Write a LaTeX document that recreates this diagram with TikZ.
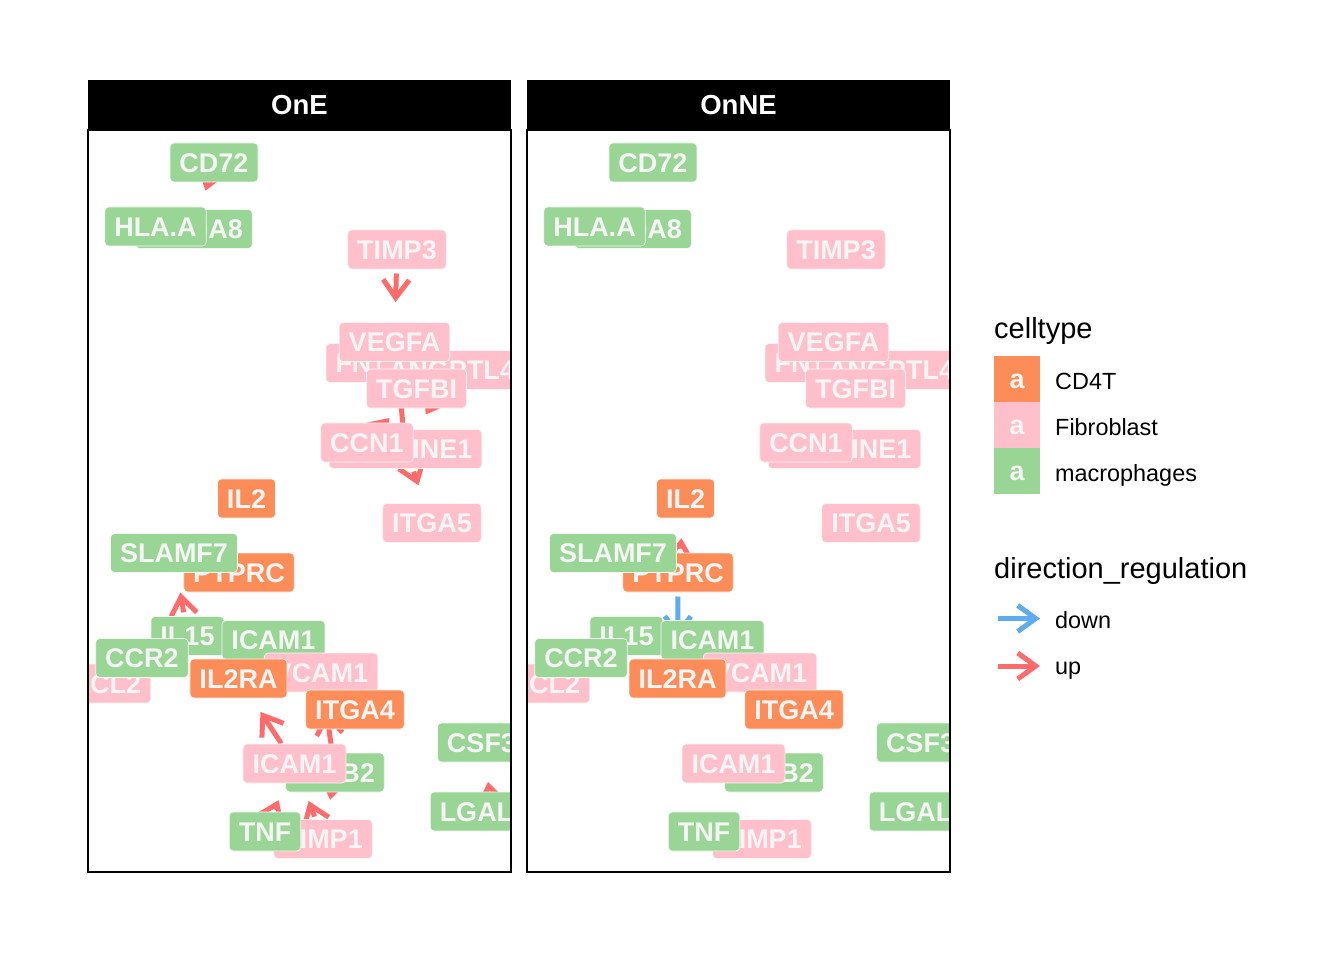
\documentclass[tikz,border=0pt]{standalone}
\usepackage{fontspec}
\setmainfont{Liberation Sans}
\usetikzlibrary{arrows.meta}
\definecolor{cdfour}{HTML}{FC8D59}
\definecolor{fibro}{HTML}{FFC0CB}
\definecolor{macro}{HTML}{99D594}
\definecolor{uparr}{HTML}{FF6A6A}
\definecolor{downarr}{HTML}{5CACEE}
\definecolor{labtxt}{HTML}{F5F5F5}
\pgfdeclarelayer{bglayer}
\pgfdeclarelayer{edgelayer}
\pgfsetlayers{bglayer,edgelayer,main}
\tikzset{
 lab/.style={rounded corners=4pt, draw=labtxt, line width=0.7pt, text=labtxt,
   font=\fontsize{27}{27}\selectfont\bfseries, inner xsep=9.5pt, inner ysep=0pt,
   text height=19.5pt, text depth=0pt, minimum height=39pt},
 cd/.style={lab, fill=cdfour},
 fb/.style={lab, fill=fibro},
 mc/.style={lab, fill=macro},
 arr/.style={line width=5pt, -{Straight Barb[length=18pt,width=26pt]}},
 edge/.style={arr, shorten <=24pt, shorten >=40pt},
 upedge/.style={edge, draw=uparr},
 downedge/.style={edge, draw=downarr},
 striptxt/.style={text=white, font=\fontsize{27.5}{27.5}\selectfont\bfseries},
 legtitle/.style={anchor=base west, inner sep=0pt, font=\fontsize{29}{29}\selectfont},
 leglab/.style={anchor=base west, inner sep=0pt, font=\fontsize{23.4}{23.4}\selectfont},
 legkey/.style={minimum width=46pt, minimum height=46pt, inner sep=0pt, text=labtxt,
   font=\fontsize{27}{27}\selectfont\bfseries, text height=19.5pt, text depth=0pt},
}
\newcommand\drawcelllabels{%
 \node[mc] (S100A8) at (194,229) {S100A8};
 \node[mc] (HLAA) at (155.5,226.5) {HLA.A};
 \node[mc] (CD72) at (214,162.5) {CD72};
 \node[fb] (TIMP3) at (397,249.5) {TIMP3};
 \node[fb] (FN1) at (361,363) {FN1};
 \node[fb] (ANGPTL4) at (452,370) {ANGPTL4};
 \node[fb] (VEGFA) at (394.5,342) {VEGFA};
 \node[fb] (TGFBI) at (416.5,388.5) {TGFBI};
 \node[fb] (SERPINE1) at (405.5,449) {SERPINE1};
 \node[fb] (CCN1) at (367,442.5) {CCN1};
 \node[fb] (ITGA5) at (432,523) {ITGA5};
 \node[cd] (IL2) at (246.5,498.5) {IL2};
 \node[cd] (PTPRC) at (239,572.5) {PTPRC};
 \node[mc] (SLAMF7) at (174,553) {SLAMF7};
 \node[mc] (IL15) at (187.5,636) {IL15};
 \node[mc] (ICAM1g) at (273.5,640) {ICAM1};
 \node[fb] (CCL2) at (106,683.5) {CCL2};
 \node[mc] (CCR2) at (142,658) {CCR2};
 \node[fb] (VCAM1) at (321,672.5) {VCAM1};
 \node[cd] (IL2RA) at (238.5,678.5) {IL2RA};
 \node[cd] (ITGA4) at (355,709.5) {ITGA4};
 \node[mc] (ITGB2) at (335,772.5) {ITGB2};
 \node[fb] (ICAM1p) at (294.5,763.5) {ICAM1};
 \node[fb] (TIMP1) at (323,839) {TIMP1};
 \node[mc] (TNF) at (265,831.5) {TNF};
 \node[mc] (CSF3) at (481.5,742.5) {CSF3};
 \node[mc] (LGALS9) at (493,811.5) {LGALS9};
}
\begin{document}
\begin{tikzpicture}[x=1pt,y=-1pt]
\useasboundingbox (0,0) rectangle (1344,960);
\begin{pgfonlayer}{bglayer}
 \fill[white] (0,0) rectangle (1344,960);
\end{pgfonlayer}
% left panel
\begin{scope}[name prefix=L-]
 \begin{scope}
  \clip (88,130) rectangle (511,872);
  \drawcelllabels
 \end{scope}
 \draw[line width=1.6pt] (88,130) rectangle (511,872);
 \fill[black] (88,80) rectangle (511,130);
 \node[striptxt] (strip) at (299.5,105) {OnE};
\end{scope}
% right panel
\begin{scope}[name prefix=R-, xshift=439pt]
 \begin{scope}
  \clip (88,130) rectangle (511,872);
  \drawcelllabels
 \end{scope}
 \draw[line width=1.6pt] (88,130) rectangle (511,872);
 \fill[black] (88,80) rectangle (511,130);
 \node[striptxt] (strip) at (299.5,105) {OnNE};
\end{scope}
% edges under the labels
\begin{pgfonlayer}{edgelayer}
 \draw[upedge] (L-CD72.center) -- (L-S100A8.center);
 \draw[upedge] (L-TIMP3.center) -- (L-VEGFA.center);
 \draw[upedge] (L-CCN1.center) -- (L-TGFBI.center);
 \draw[upedge] (L-SERPINE1.center) -- (L-VEGFA.center);
 \draw[upedge] (L-ANGPTL4.center) -- (L-SERPINE1.center);
 \draw[upedge] (L-SERPINE1.center) -- (L-ITGA5.center);
 \draw[upedge] (L-IL15.center) -- (L-SLAMF7.center);
 \draw[upedge] (L-ICAM1p.center) -- (L-IL2RA.center);
 \draw[upedge] (L-ITGB2.center) -- (L-VCAM1.center);
 \draw[upedge] (L-TNF.center) -- (L-ICAM1p.center);
 \draw[upedge] (L-TIMP1.center) -- (L-ICAM1p.center);
 \draw[upedge] (L-ITGB2.center) -- (L-TIMP1.center);
 \draw[upedge] (L-LGALS9.center) -- (L-CSF3.center);
 \draw[upedge] (R-PTPRC.center) -- (R-IL2.center);
 \draw[downedge] (R-PTPRC.center) -- (R-IL2RA.center);
\end{pgfonlayer}
% legend
\node[legtitle] (ct) at (994,338) {celltype};
\node[legkey, fill=cdfour] (k1) at (1017,379) {a};
\node[legkey, fill=fibro] (k2) at (1017,425) {a};
\node[legkey, fill=macro] (k3) at (1017,471) {a};
\node[leglab] (l1) at (1055,389) {CD4T};
\node[leglab] (l2) at (1055,435) {Fibroblast};
\node[leglab] (l3) at (1055,481) {macrophages};
\node[legtitle] (dr) at (994,578) {direction\_regulation};
\coordinate (da) at (998,618.5);
\coordinate (db) at (1040,618.5);
\coordinate (ua) at (998,666);
\coordinate (ub) at (1040,666);
\draw[arr, draw=downarr] (da) -- (db);
\draw[arr, draw=uparr] (ua) -- (ub);
\node[leglab] (l4) at (1055,628) {down};
\node[leglab] (l5) at (1055,674) {up};
\end{tikzpicture}
\end{document}
